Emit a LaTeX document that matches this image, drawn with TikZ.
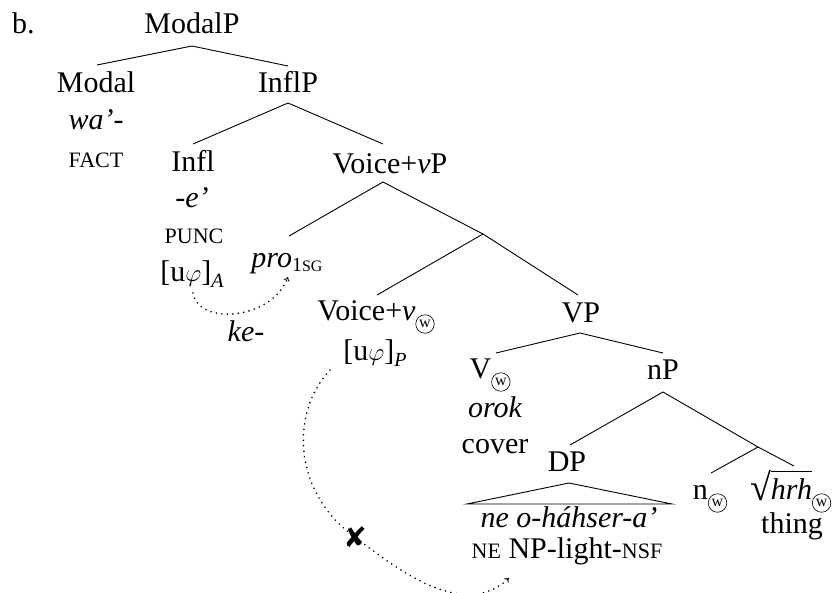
\documentclass[tikz,border=0pt]{standalone}
\usepackage{fontspec}
\setmainfont{Liberation Serif}
\newfontfamily\dejavu{DejaVu Sans}
\usetikzlibrary{arrows.meta}
\newcommand\cw{\raisebox{-4pt}{\tikz[baseline={(c.center)}]\node[circle,draw,line width=0.6pt,inner sep=0pt,minimum size=18.5pt,font=\fontsize{16}{16}\selectfont](c){w};}}
\newcommand\fsc[1]{{\fontsize{22}{22}\selectfont #1}}
\newcommand\lowsub[2][6pt]{\raisebox{-#1}{\fontsize{20}{20}\selectfont #2}}
\newcommand\rad[1]{{\fontsize{38}{38}\selectfont\raisebox{-1.5pt}{√}}\kern-0.8pt\vbox{\hrule height 0.9pt\kern 6pt\hbox{#1}}}
\tikzset{
  lbl/.style={font=\fontsize{30}{36}\selectfont, inner sep=0pt, anchor=base},
  branch/.style={line width=0.9pt},
  agree/.style={line width=1.8pt, line cap=round, dash pattern=on 0pt off 5.5pt},
  tip/.style={-{To[length=4pt,width=6pt,line width=0.9pt]}}
}
\begin{document}
\begin{tikzpicture}[x=1pt,y=-1pt]
\useasboundingbox (0,0) rectangle (838,592);
% labels
\node[lbl,anchor=base west] (b) at (12,33) {b.};
\node[lbl] (modalp) at (192,33) {ModalP};
\node[lbl] (modal) at (96,92) {Modal};
\node[lbl] (wa) at (96,129) {\itshape wa’-};
\node[lbl] (fact) at (96,167) {\fsc{FACT}};
\node[lbl] (inflp) at (288,92) {InflP};
\node[lbl] (infl) at (193,171) {Infl};
\node[lbl] (e) at (192,207) {\itshape -e’};
\node[lbl] (punc) at (194,243) {\fsc{PUNC}};
\node[lbl] (ua) at (192,281) {[u$\varphi$]\lowsub{\itshape A}};
\node[lbl] (voicevp) at (390,173) {Voice+\textit{v}P};
\node[lbl] (pro) at (287,267) {\textit{pro}\lowsub[4pt]{1{\fontsize{16}{16}\selectfont SG}}};
\node[lbl] (ke) at (246,341) {\itshape ke-};
\node[lbl] (voicev) at (376,320) {Voice+\textit{v}\cw};
\node[lbl] (up) at (375,360) {[u$\varphi$]\lowsub{\itshape P}};
\node[lbl] (vp) at (581,322) {VP};
\node[lbl] (v) at (490,378) {V\cw};
\node[lbl] (orok) at (495,417) {\itshape orok};
\node[lbl] (cover) at (495,453) {cover};
\node[lbl] (np) at (663,379) {nP};
\node[lbl] (dp) at (567,471) {DP};
\node[lbl] (ne) at (569,527) {\itshape ne o-háhser-a’};
\node[lbl] (gloss) at (567,558) {\fsc{NE} NP-light-\fsc{NSF}};
\node[lbl] (n) at (710,499) {n\cw};
\node[lbl] (hrh) at (791,499) {\rad{\itshape hrh}\cw};
\node[lbl] (thing) at (792,533) {thing};
% branch points
\coordinate (tModalP) at (192,46);
\coordinate (bModal) at (97,65);
\coordinate (bInflP) at (288,66);
\coordinate (tInflP) at (288,103);
\coordinate (bInfl) at (193,144);
\coordinate (bVoiceVP) at (383,144);
\coordinate (tVoiceVP) at (383,182);
\coordinate (bPro) at (289,236);
\coordinate (vbar) at (483,234);
\coordinate (bVoiceV) at (377,295);
\coordinate (bVP) at (578,295);
\coordinate (tVP) at (580,333);
\coordinate (bV) at (496,353);
\coordinate (bNP) at (663,353);
\coordinate (tNP) at (663,392);
\coordinate (bDP) at (570,445);
\coordinate (nbar) at (758,447);
\coordinate (bN) at (711,473);
\coordinate (bHrh) at (794,466);
\coordinate (apex) at (569,483);
\coordinate (baseL) at (467,504);
\coordinate (baseR) at (672,504);
\draw[branch] (bModal) -- (tModalP) -- (bInflP);
\draw[branch] (bInfl) -- (tInflP) -- (bVoiceVP);
\draw[branch] (bPro) -- (tVoiceVP) -- (vbar);
\draw[branch] (bVoiceV) -- (vbar) -- (bVP);
\draw[branch] (bV) -- (tVP) -- (bNP);
\draw[branch] (bDP) -- (tNP) -- (nbar);
\draw[branch] (bN) -- (nbar) -- (bHrh);
\draw[branch] (apex) -- (baseL) -- (baseR) -- cycle;
% agreement arrows
\coordinate (uaS) at (193,293);
\coordinate (proS) at (288,277);
\coordinate (upS) at (330,370);
\coordinate (cross) at (355,537);
\coordinate (glossS) at (509,578);
\draw[agree,tip] (uaS) .. controls (198,326) and (272,320) .. (proS);
\draw[agree,tip] (upS) .. controls (288,415) and (295,495) .. (cross)
  .. controls (400,572) and (465,620) .. (glossS);
\node[font=\fontsize{28}{28}\selectfont\dejavu, inner sep=0pt] (x) at (cross) {✘};
\end{tikzpicture}
\end{document}
